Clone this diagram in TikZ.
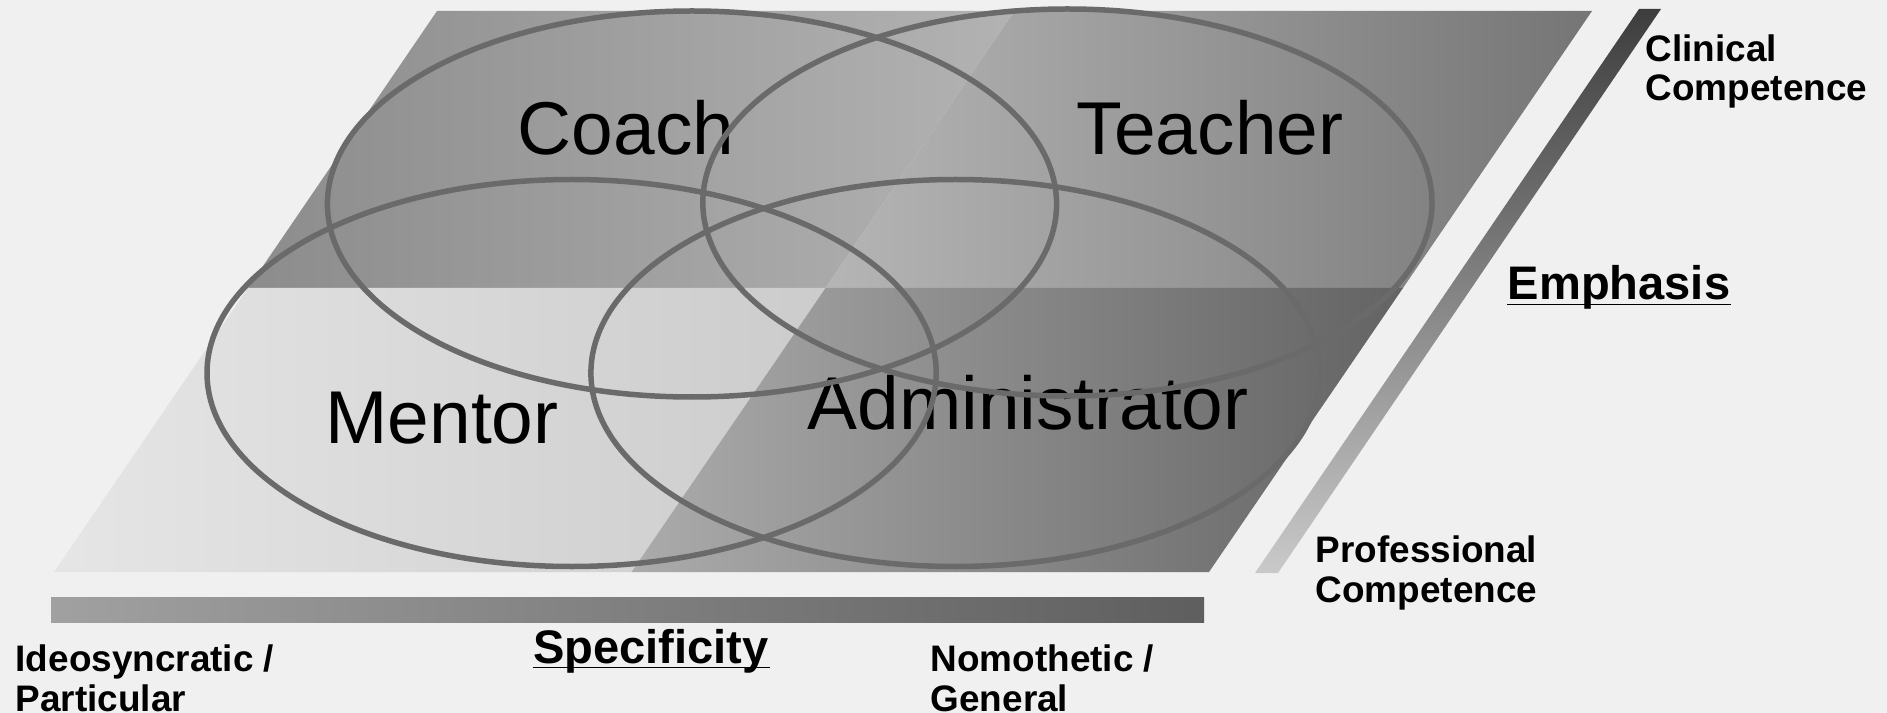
\documentclass[tikz,border=0pt]{standalone}
\usepackage{fontspec}
\setmainfont{Liberation Sans}
\usetikzlibrary{positioning,calc}

\definecolor{paper}{HTML}{F0F0F0}
\definecolor{ringgray}{HTML}{6A6A6A}

\begin{document}
\begin{tikzpicture}
      [x=0.1mm,y=-0.1mm,
      role/.style={font=\fontsize{21.3}{25}\selectfont,inner sep=0pt,anchor=base},
      pole/.style={font=\bfseries\fontsize{10.5}{11.2}\selectfont,align=left,inner sep=0pt,anchor=base west},
      axisname/.style={font=\bfseries\fontsize{13.4}{15}\selectfont,inner sep=0pt,anchor=base},
      ring/.style={draw=ringgray,line width=0.55mm}]
     \fill[paper] (0,0) rectangle (1887,713);
     \useasboundingbox (0,0) rectangle (1887,713);
     % corners of the four fields
     \coordinate (p00) at (437,11);  \coordinate (p01) at (1014.5,11); \coordinate (p02) at (1592,11);
     \coordinate (p10) at (248,288); \coordinate (p11) at (825.5,288); \coordinate (p12) at (1403,288);
     \coordinate (p20) at (54,572);  \coordinate (p21) at (631.5,572); \coordinate (p22) at (1209,572);
     \shade[left color=black!45,right color=black!30] (p00) -- (p01) -- (p11) -- (p10) -- cycle;
     \shade[left color=black!29,right color=black!54] (p01) -- (p02) -- (p12) -- (p11) -- cycle;
     \shade[left color=black!10,right color=black!20] (p10) -- (p11) -- (p21) -- (p20) -- cycle;
     \shade[left color=black!33,right color=black!61] (p11) -- (p12) -- (p22) -- (p21) -- cycle;
     % emphasis bar
     \coordinate (e1) at (1639,9);  \coordinate (e2) at (1661,9);
     \coordinate (e3) at (1278,573); \coordinate (e4) at (1255,573);
     \shade[top color=black!76,bottom color=black!21] (e1) -- (e2) -- (e3) -- (e4) -- cycle;
     % specificity bar
     \shade[left color=black!37,right color=black!63] (51,597) rectangle (1204,622);
     % roles
     \node[role] (coach) at (626,155) {Coach};
     \node[role] (teacher) at (1210,155) {Teacher};
     \node[role] (mentor) at (442,443) {Mentor};
     \node[role] (admin) at (1028,429) {Administrator};
     \draw[ring] (692,204) ellipse [x radius=364.6,y radius=193];
     \draw[ring] (1067.4,202.5) ellipse [x radius=364.6,y radius=193.5];
     \draw[ring] (571.6,373) ellipse [x radius=364.6,y radius=193.5];
     \draw[ring] (955.5,373) ellipse [x radius=364.6,y radius=193.5];
     % axis labels (base is the last line)
     \node[pole] (clinical) at (1645,101) {Clinical\\Competence};
     \node[pole] (professional) at (1315,602) {Professional\\Competence};
     \node[pole] (ideo) at (15,711) {Ideosyncratic /\\Particular};
     \node[pole] (nomo) at (930,711) {Nomothetic /\\General};
     \node[axisname] (emph) at (1619,300) {Emphasis};
     \node[axisname] (spec) at (651,663) {Specificity};
     \draw[line width=0.35pt] ([yshift=-1.2pt]emph.base west) -- ([yshift=-1.2pt]emph.base east);
     \draw[line width=0.35pt] ([yshift=-1.2pt]spec.base west) -- ([yshift=-1.2pt]spec.base east);
    \end{tikzpicture}
\end{document}
